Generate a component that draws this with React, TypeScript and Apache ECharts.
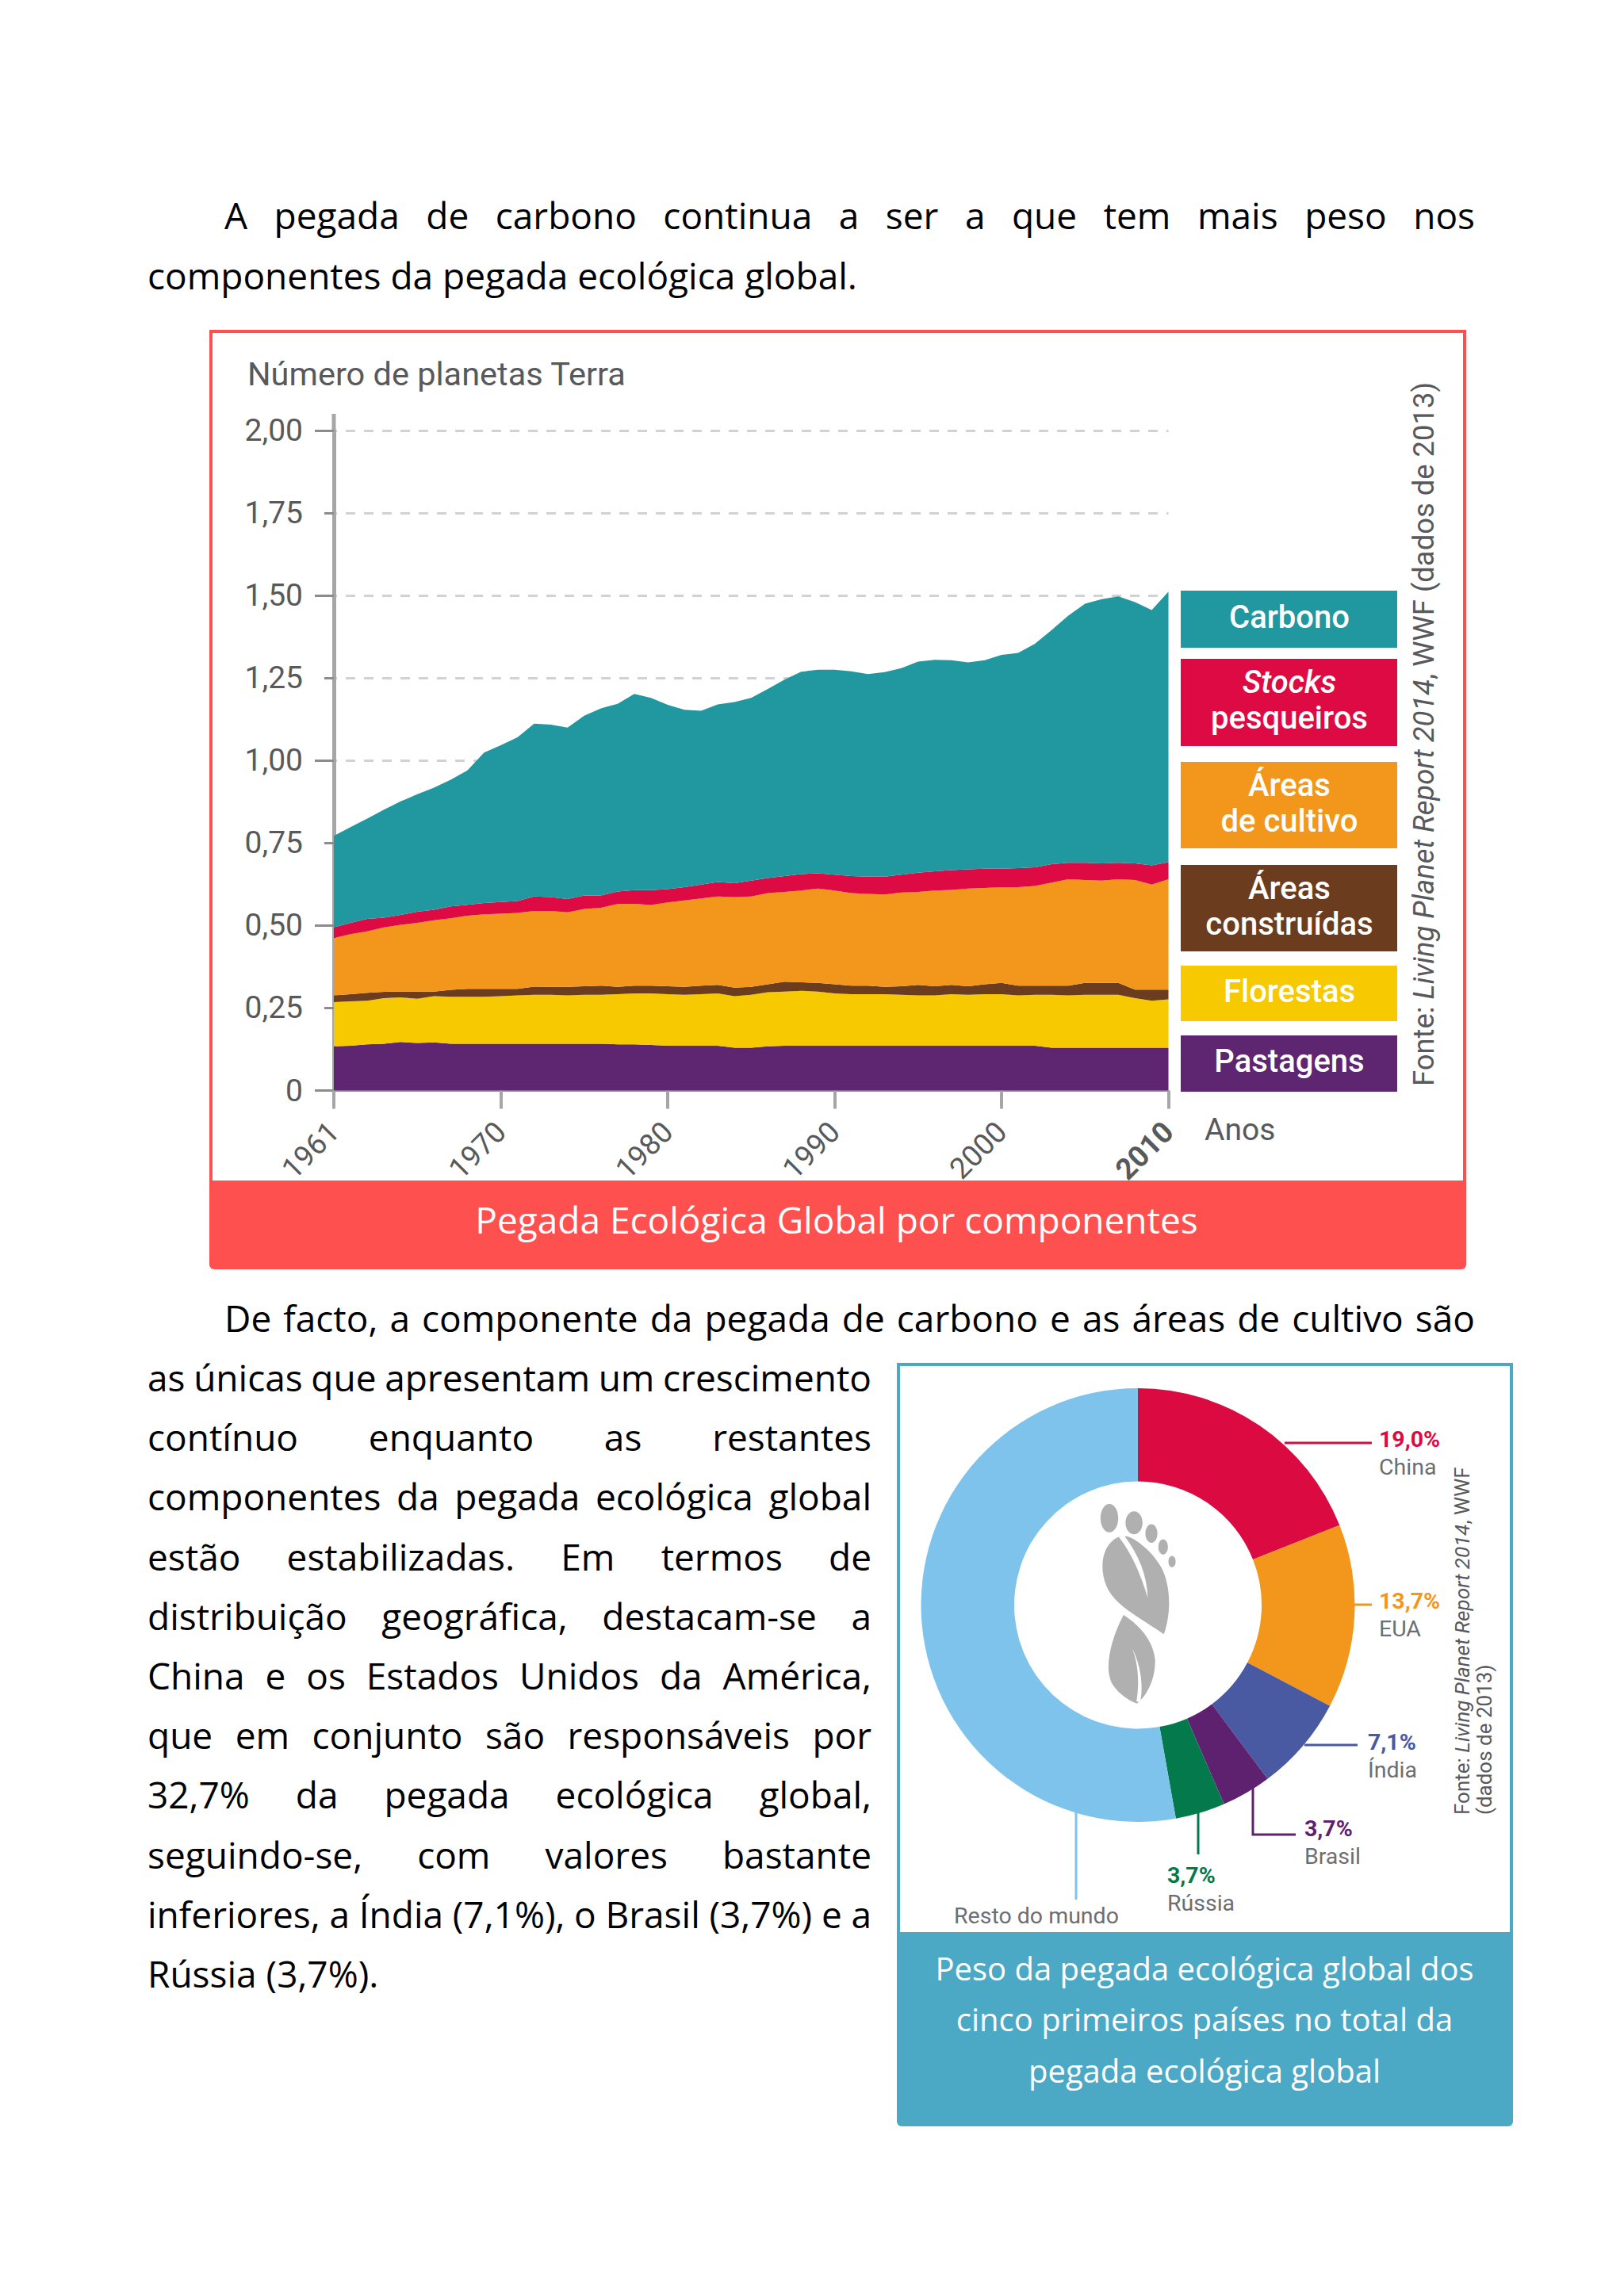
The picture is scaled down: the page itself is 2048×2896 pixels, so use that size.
import React, { useEffect, useRef } from "react";
import * as echarts from "echarts";

// ---- Area chart data (upper boundary of each stacked layer) ----
// The source axis spaces 1961, 1970, 1980... evenly, so there are 51 evenly spaced steps.
const xTickLabels = ["1961", "1970", "1980", "1990", "2000", "2010"];
const xSteps = Array.from({ length: 51 }, (_, i) => (i % 10 === 0 ? xTickLabels[i / 10] : `p${i}`));
const yTickLabels = ["0", "0,25", "0,50", "0,75", "1,00", "1,25", "1,50", "1,75", "2,00"];

const pastagensTop = [.134,.136,.140,.142,.147,.144,.146,.142,.142,.142,.142,.142,.142,.142,.142,.142,.142,.140,.140,.138,.136,.136,.136,.136,.130,.130,.134,.136,.136,.136,.136,.136,.136,.136,.136,.136,.136,.136,.136,.136,.136,.136,.136,.130,.130,.130,.130,.130,.130,.130,.130];
const florestasTop = [.268,.270,.272,.280,.282,.278,.286,.284,.284,.284,.286,.288,.290,.290,.288,.290,.290,.292,.294,.294,.292,.290,.292,.294,.286,.290,.298,.300,.302,.300,.294,.292,.292,.292,.290,.288,.288,.292,.290,.292,.292,.288,.290,.290,.288,.290,.290,.290,.280,.272,.276];
const construidasTop = [.288,.292,.296,.299,.300,.300,.300,.305,.308,.308,.308,.308,.315,.314,.314,.316,.318,.314,.318,.318,.316,.314,.318,.320,.312,.314,.322,.330,.328,.326,.322,.318,.318,.314,.316,.320,.316,.320,.316,.322,.326,.318,.318,.318,.318,.326,.326,.326,.306,.306,.306];
const cultivoTop = [.462,.474,.482,.494,.502,.508,.516,.522,.530,.534,.536,.538,.544,.544,.540,.550,.554,.565,.566,.562,.570,.576,.582,.588,.586,.588,.598,.602,.606,.612,.606,.598,.596,.594,.600,.602,.606,.608,.612,.614,.616,.616,.620,.630,.640,.638,.636,.640,.638,.624,.640];
const stocksTop = [.494,.508,.520,.524,.532,.542,.548,.558,.563,.568,.571,.574,.588,.586,.580,.591,.591,.603,.607,.607,.610,.616,.624,.632,.628,.636,.644,.650,.656,.658,.654,.650,.648,.648,.654,.660,.664,.668,.670,.672,.672,.674,.676,.686,.690,.690,.688,.690,.688,.682,.692];
const carbonoTop = [.772,.798,.824,.851,.876,.898,.918,.942,.970,1.024,1.046,1.070,1.112,1.109,1.100,1.136,1.158,1.172,1.202,1.190,1.169,1.154,1.151,1.170,1.177,1.190,1.217,1.245,1.269,1.275,1.275,1.270,1.262,1.268,1.280,1.300,1.305,1.304,1.297,1.304,1.320,1.326,1.354,1.395,1.439,1.475,1.489,1.497,1.480,1.456,1.512];

const layerNames = ["Pastagens", "Florestas", "Áreas construídas", "Áreas de cultivo", "Stocks pesqueiros", "Carbono"];
const layerTops = [pastagensTop, florestasTop, construidasTop, cultivoTop, stocksTop, carbonoTop];
const layerColors = ["#5E2570", "#F6C900", "#6B3D1E", "#F2971C", "#DE0A43", "#21989F"];

// ---- Doughnut data ----
const pieNames = ["China", "EUA", "Índia", "Brasil", "Rússia", "Resto do mundo"];
const pieValues = [19.0, 13.7, 7.1, 3.7, 3.7, 52.8];
const pieLabels = ["19,0%", "13,7%", "7,1%", "3,7%", "3,7%", "52,8%"];
const pieColors = ["#DB0A41", "#F2971C", "#4A5AA2", "#5E2170", "#04794C", "#7DC3EC"];

// ---- Page text ----
const BODY_FONT = '"Open Sans"';
const CHART_FONT = "Roboto";
const BODY_SIZE = 46;
const para1 = [
  { text: "A pegada de carbono continua a ser a que tem mais peso nos", x0: 283, x1: 1860, y: 271, just: true },
  { text: "componentes da pegada ecológica global.", x0: 186, x1: 1860, y: 347, just: false },
  { text: "De facto, a componente da pegada de carbono e as áreas de cultivo são", x0: 283, x1: 1860, y: 1662, just: true },
];
const columnLines = [
  "as únicas que apresentam um crescimento",
  "contínuo enquanto as restantes",
  "componentes da pegada ecológica global",
  "estão estabilizadas. Em termos de",
  "distribuição geográfica, destacam-se a",
  "China e os Estados Unidos da América,",
  "que em conjunto são responsáveis por",
  "32,7% da pegada ecológica global,",
  "seguindo-se, com valores bastante",
  "inferiores, a Índia (7,1%), o Brasil (3,7%) e a",
  "Rússia (3,7%).",
];
const caption1 = "Pegada Ecológica Global por componentes";
const caption2 = ["Peso da pegada ecológica global dos", "cinco primeiros países no total da", "pegada ecológica global"];

const footGray =
  "M547 406A22 37 0 1 0 547 480A22 37 0 1 0 547 406Z M608 425A21 30 0 1 0 608 485A21 30 0 1 0 608 425Z M651 459A15 24 0 1 0 651 507A15 24 0 1 0 651 459Z M680 498A12 20 0 1 0 680 538A12 20 0 1 0 680 498Z M702 541A9 15 0 1 0 702 571A9 15 0 1 0 702 541Z " +
  "M570 492C530 510 520 570 540 620C560 670 620 700 682 745C700 690 700 620 675 570C650 525 610 495 590 490Z " +
  "M582 695C550 760 535 830 552 870C565 895 590 915 615 925C640 905 662 860 660 810C655 760 620 720 582 695Z";
const footWhite =
  "M585 490C620 540 640 590 642 650C625 590 600 530 570 492Z M603 780C622 820 632 870 624 920L614 920C622 870 618 820 603 780Z";

export default function App() {
  const ref = useRef<HTMLDivElement>(null);
  useEffect(() => {
    if (!ref.current) return;
    document.body.style.margin = "0";
    const chart = echarts.init(ref.current, undefined, { renderer: "svg" });
    echarts.graphic.registerShape("footGray", echarts.graphic.extendPath(footGray, {}) as any);
    echarts.graphic.registerShape("footWhite", echarts.graphic.extendPath(footWhite, {}) as any);

    const ctx = document.createElement("canvas").getContext("2d")!;
    ctx.font = `${BODY_SIZE}px ${BODY_FONT}`;

    const graphics: any[] = [];
    const text = (x: number, y: number, t: string, size: number, color: string, extra: any = {}, elExtra: any = {}) =>
      graphics.push({
        type: "text", x, y, ...elExtra,
        style: { text: t, fontSize: size, fill: color, fontFamily: CHART_FONT, align: "left", verticalAlign: "middle", ...extra },
      });

    const bodyLine = (line: string, x0: number, x1: number, y: number, just: boolean) => {
      const words = line.split(" ");
      const widths = words.map((w) => ctx.measureText(w).width);
      const total = widths.reduce((a, b) => a + b, 0);
      const gap = just && words.length > 1 ? (x1 - x0 - total) / (words.length - 1) : ctx.measureText(" ").width;
      let x = x0;
      words.forEach((w, i) => {
        text(x, y, w, BODY_SIZE, "#000", { fontFamily: BODY_FONT });
        x += widths[i] + gap;
      });
    };
    para1.forEach((l) => bodyLine(l.text, l.x0, l.x1, l.y, l.just));
    columnLines.forEach((l, i) => bodyLine(l, 186, 1099, 1737 + i * 75.2, i < columnLines.length - 1));

    // frames
    const frame = (x: number, y: number, w: number, h: number, bandY: number, color: string) => {
      graphics.push({ type: "rect", shape: { x, y: bandY, width: w, height: y + h - bandY, r: [0, 0, 6, 6] }, style: { fill: color } });
      graphics.push({ type: "rect", shape: { x: x + 2, y: y + 2, width: w - 4, height: bandY - y - 2 }, style: { fill: "none", stroke: color, lineWidth: 4 } });
    };
    frame(264, 416, 1585, 1185, 1491, "#FF5050");
    frame(1131, 1719, 777, 963, 2439, "#4CA9C6");

    text(1055, 1538, caption1, BODY_SIZE, "#fff", { fontFamily: BODY_FONT, align: "center" });
    caption2.forEach((t, i) => text(1519, 2482 + i * 64.5, t, 40, "#fff", { fontFamily: BODY_FONT, align: "center" }));

    // area-chart annotations
    text(312, 471, "Número de planetas Terra", 41.5, "#58595B");
    text(1519, 1425, "Anos", 39, "#58595B");
    graphics.push({ type: "line", shape: { x1: 421, y1: 522, x2: 421, y2: 543 }, style: { stroke: "#A6A6A6", lineWidth: 5 } });

    const legend = [
      { y0: 745, y1: 817, color: layerColors[5], lines: ["Carbono"] },
      { y0: 831, y1: 941, color: layerColors[4], lines: ["Stocks", "pesqueiros"], italicFirst: true },
      { y0: 961, y1: 1070, color: layerColors[3], lines: ["Áreas", "de cultivo"] },
      { y0: 1091, y1: 1200, color: layerColors[2], lines: ["Áreas", "construídas"] },
      { y0: 1218, y1: 1288, color: layerColors[1], lines: ["Florestas"] },
      { y0: 1306, y1: 1377, color: layerColors[0], lines: ["Pastagens"] },
    ];
    legend.forEach((b: any) => {
      graphics.push({ type: "rect", shape: { x: 1489, y: b.y0, width: 273, height: b.y1 - b.y0 }, style: { fill: b.color } });
      const mid = (b.y0 + b.y1) / 2 - 3;
      b.lines.forEach((t: string, i: number) => {
        text(1626, mid + (i - (b.lines.length - 1) / 2) * 45, t, 40, "#fff", {
          align: "center", fontWeight: 500, fontStyle: b.italicFirst && i === 0 ? "italic" : "normal",
        });
      });
    });

    const richSrc = (size: number) => ({
      a: { fontSize: size, fontFamily: CHART_FONT, fill: "#58595B", color: "#58595B" },
      b: { fontSize: size, fontFamily: CHART_FONT, fill: "#58595B", color: "#58595B", fontStyle: "italic" },
    });
    graphics.push({
      type: "text", x: 1795, y: 1370, rotation: Math.PI / 2,
      style: { text: "{a|Fonte: }{b|Living Planet Report 2014}{a|, WWF (dados de 2013)}", rich: richSrc(36.4), align: "left", verticalAlign: "middle" },
    });
    graphics.push({
      type: "text", x: 1844, y: 2289, rotation: Math.PI / 2,
      style: { text: "{a|Fonte: }{b|Living Planet Report 2014}{a|, WWF}", rich: richSrc(26), align: "left", verticalAlign: "middle" },
    });
    text(1872, 2289, "(dados de 2013)", 26, "#58595B", {}, { rotation: Math.PI / 2 });

    // doughnut annotations
    const leaders: [number, number][][] = [
      [[1620, 1820], [1730, 1820]],
      [[1708, 2024], [1730, 2024]],
      [[1645, 2201], [1712, 2201]],
      [[1580, 2255], [1580, 2314], [1634, 2314]],
      [[1511, 2286], [1511, 2339]],
      [[1357, 2286], [1357, 2396]],
    ];
    leaders.forEach((pts, i) =>
      graphics.push({ type: "polyline", shape: { points: pts }, style: { stroke: pieColors[i], lineWidth: 3, fill: "none" } })
    );
    const labelPos = [[1739, 1815], [1739, 2019], [1725, 2197], [1645, 2306], [1472, 2365]];
    labelPos.forEach(([x, y], i) => {
      text(x, y, pieLabels[i], 28.5, pieColors[i], { fontWeight: "bold" });
      text(x, y + 35, pieNames[i], 28.5, "#6D6E71");
    });
    text(1372, 2220, pieLabels[5], 28.5, "#fff", { fontWeight: "bold", align: "center" });
    text(1203, 2416, pieNames[5], 28.5, "#6D6E71");

    graphics.push({ type: "footGray", x: 1120, y: 1700, scaleX: 1 / 1.96, scaleY: 1 / 2.063, style: { fill: "#B1B0B0" } });
    graphics.push({ type: "footWhite", x: 1120, y: 1700, scaleX: 1 / 1.96, scaleY: 1 / 2.063, style: { fill: "#fff" } });

    const series: any[] = layerNames.map((name, li) => ({
      name, type: "line", stack: "total", showSymbol: false, silent: true, xAxisIndex: 0, yAxisIndex: 0,
      lineStyle: { width: 0 }, areaStyle: { color: layerColors[li], opacity: 1 }, itemStyle: { color: layerColors[li] },
      data: xSteps.map((_, i) => +(layerTops[li][i] - (li ? layerTops[li - 1][i] : 0)).toFixed(3)),
    }));
    series.push({
      type: "pie", center: [1435, 2024.5], radius: [156, 273.5], startAngle: 90, clockwise: true, silent: true,
      label: { show: false }, labelLine: { show: false },
      data: pieNames.map((name, i) => ({ name, value: pieValues[i], itemStyle: { color: pieColors[i] } })),
    });

    const onTenth = (i: number) => i % 10 === 0;
    chart.setOption({
      animation: false,
      backgroundColor: "#fff",
      grid: { left: 421, top: 543, width: 1052.5, height: 832.5, containLabel: false },
      xAxis: {
        type: "category", data: xSteps, boundaryGap: false,
        axisLine: { show: true, onZero: false, lineStyle: { color: "#8C8C8C", width: 2 } },
        axisTick: { show: true, length: 23, interval: onTenth, lineStyle: { color: "#A6A6A6", width: 4 } },
        splitLine: { show: false },
        axisLabel: {
          rotate: 45, margin: 46, fontSize: 37, fontFamily: CHART_FONT, color: "#58595B", hideOverlap: false,
          interval: onTenth,
          formatter: (v: string) => (v === xTickLabels[xTickLabels.length - 1] ? `{b|${v}}` : v),
          rich: { b: { fontSize: 37, fontWeight: "bold", fontFamily: CHART_FONT, color: "#58595B" } },
        },
      },
      yAxis: [
        {
          type: "value", min: 0, max: 2, interval: 0.25,
          axisLine: { show: true, onZero: false, lineStyle: { color: "#A6A6A6", width: 5 } },
          axisTick: { show: true, length: 12, lineStyle: { color: "#8C8C8C", width: 3 } },
          splitLine: { show: true, lineStyle: { color: "#D2D2D2", width: 3, type: [12, 11], dashOffset: 8 } },
          axisLabel: {
            margin: 39, fontSize: 39, padding: [0, 0, 4, 0], fontFamily: CHART_FONT, color: "#58595B",
            formatter: (_v: number, i: number) => yTickLabels[i],
          },
        },
        {
          type: "value", min: 0, max: 2, interval: 0.5, position: "left",
          axisLine: { show: false }, splitLine: { show: false }, axisLabel: { show: false },
          axisTick: { show: true, length: 24, lineStyle: { color: "#8C8C8C", width: 3 } },
        },
      ],
      series,
      graphic: { elements: graphics },
    });
    return () => chart.dispose();
  }, []);
  return <div ref={ref} style={{ position: "absolute", left: 0, top: 0, width: 2048, height: 2896 }} />;
}
